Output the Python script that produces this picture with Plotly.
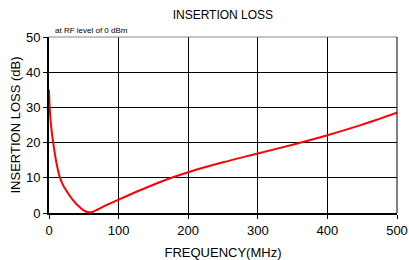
import plotly.graph_objects as go

freq = [0, 1, 2, 4, 6, 10, 15, 20, 25, 35, 45, 52, 58, 62, 70, 80, 100, 130, 170, 200, 250, 300, 350, 400, 450, 500]
loss = [35, 30, 27, 23, 20, 15, 10.5, 8, 6.3, 3.5, 1.5, 0.5, 0.2, 0.3, 1.0, 2.0, 3.8, 6.4, 9.6, 11.6, 14.4, 16.9, 19.4, 22.1, 25.1, 28.5]

x_ticks = [0, 100, 200, 300, 400, 500]
y_ticks = [0, 10, 20, 30, 40, 50]

fig = go.Figure()
fig.add_trace(go.Scatter(x=freq, y=loss, mode="lines",
                         line=dict(color="#ff0000", width=2, shape="spline", smoothing=0.8),
                         hoverinfo="skip", showlegend=False, cliponaxis=False))

font = "Liberation Sans, Arial, sans-serif"
fig.update_layout(
    width=409, height=260,
    margin=dict(l=49, r=12, t=37, b=47, autoexpand=False),
    paper_bgcolor="white", plot_bgcolor="white",
    font=dict(family=font, color="black", size=13),
    title=dict(text="INSERTION LOSS", x=0.545, xanchor="center", y=0.945, yanchor="middle",
               font=dict(size=12, family=font, color="black")),
    xaxis=dict(range=[0, 500], tickvals=x_ticks, showgrid=True, gridcolor="black", gridwidth=1,
               showline=True, linecolor="black", linewidth=2, mirror=False, automargin=False,
               ticks="outside", ticklen=4, tickcolor="black", zeroline=False,
               tickfont=dict(size=13), fixedrange=True,
               title=dict(text="FREQUENCY(MHz)", font=dict(size=13), standoff=11)),
    yaxis=dict(range=[0, 50], tickvals=y_ticks, showgrid=True, gridcolor="black", gridwidth=1,
               showline=True, linecolor="black", linewidth=2, automargin=False,
               ticks="outside", ticklen=4, tickcolor="black", zeroline=False,
               tickfont=dict(size=13), fixedrange=True,
               title=dict(text="INSERTION LOSS (dB)", font=dict(size=13), standoff=2)),
    annotations=[dict(text="at RF level of 0 dBm", x=0.012, y=1.0, xref="paper", yref="paper",
                      xanchor="left", yanchor="bottom", showarrow=False,
                      font=dict(size=8, family=font, color="black"))],
)
fig.add_shape(type="line", xref="paper", yref="paper", x0=0, x1=1, y0=1, y1=1,
              line=dict(color="#888888", width=1))
fig.add_shape(type="line", xref="paper", yref="paper", x0=1, x1=1, y0=0, y1=1,
              line=dict(color="black", width=1))

fig.write_html("out.html", config={"displayModeBar": False},
               post_script="document.body.style.margin='0';document.body.style.overflow='hidden';")
